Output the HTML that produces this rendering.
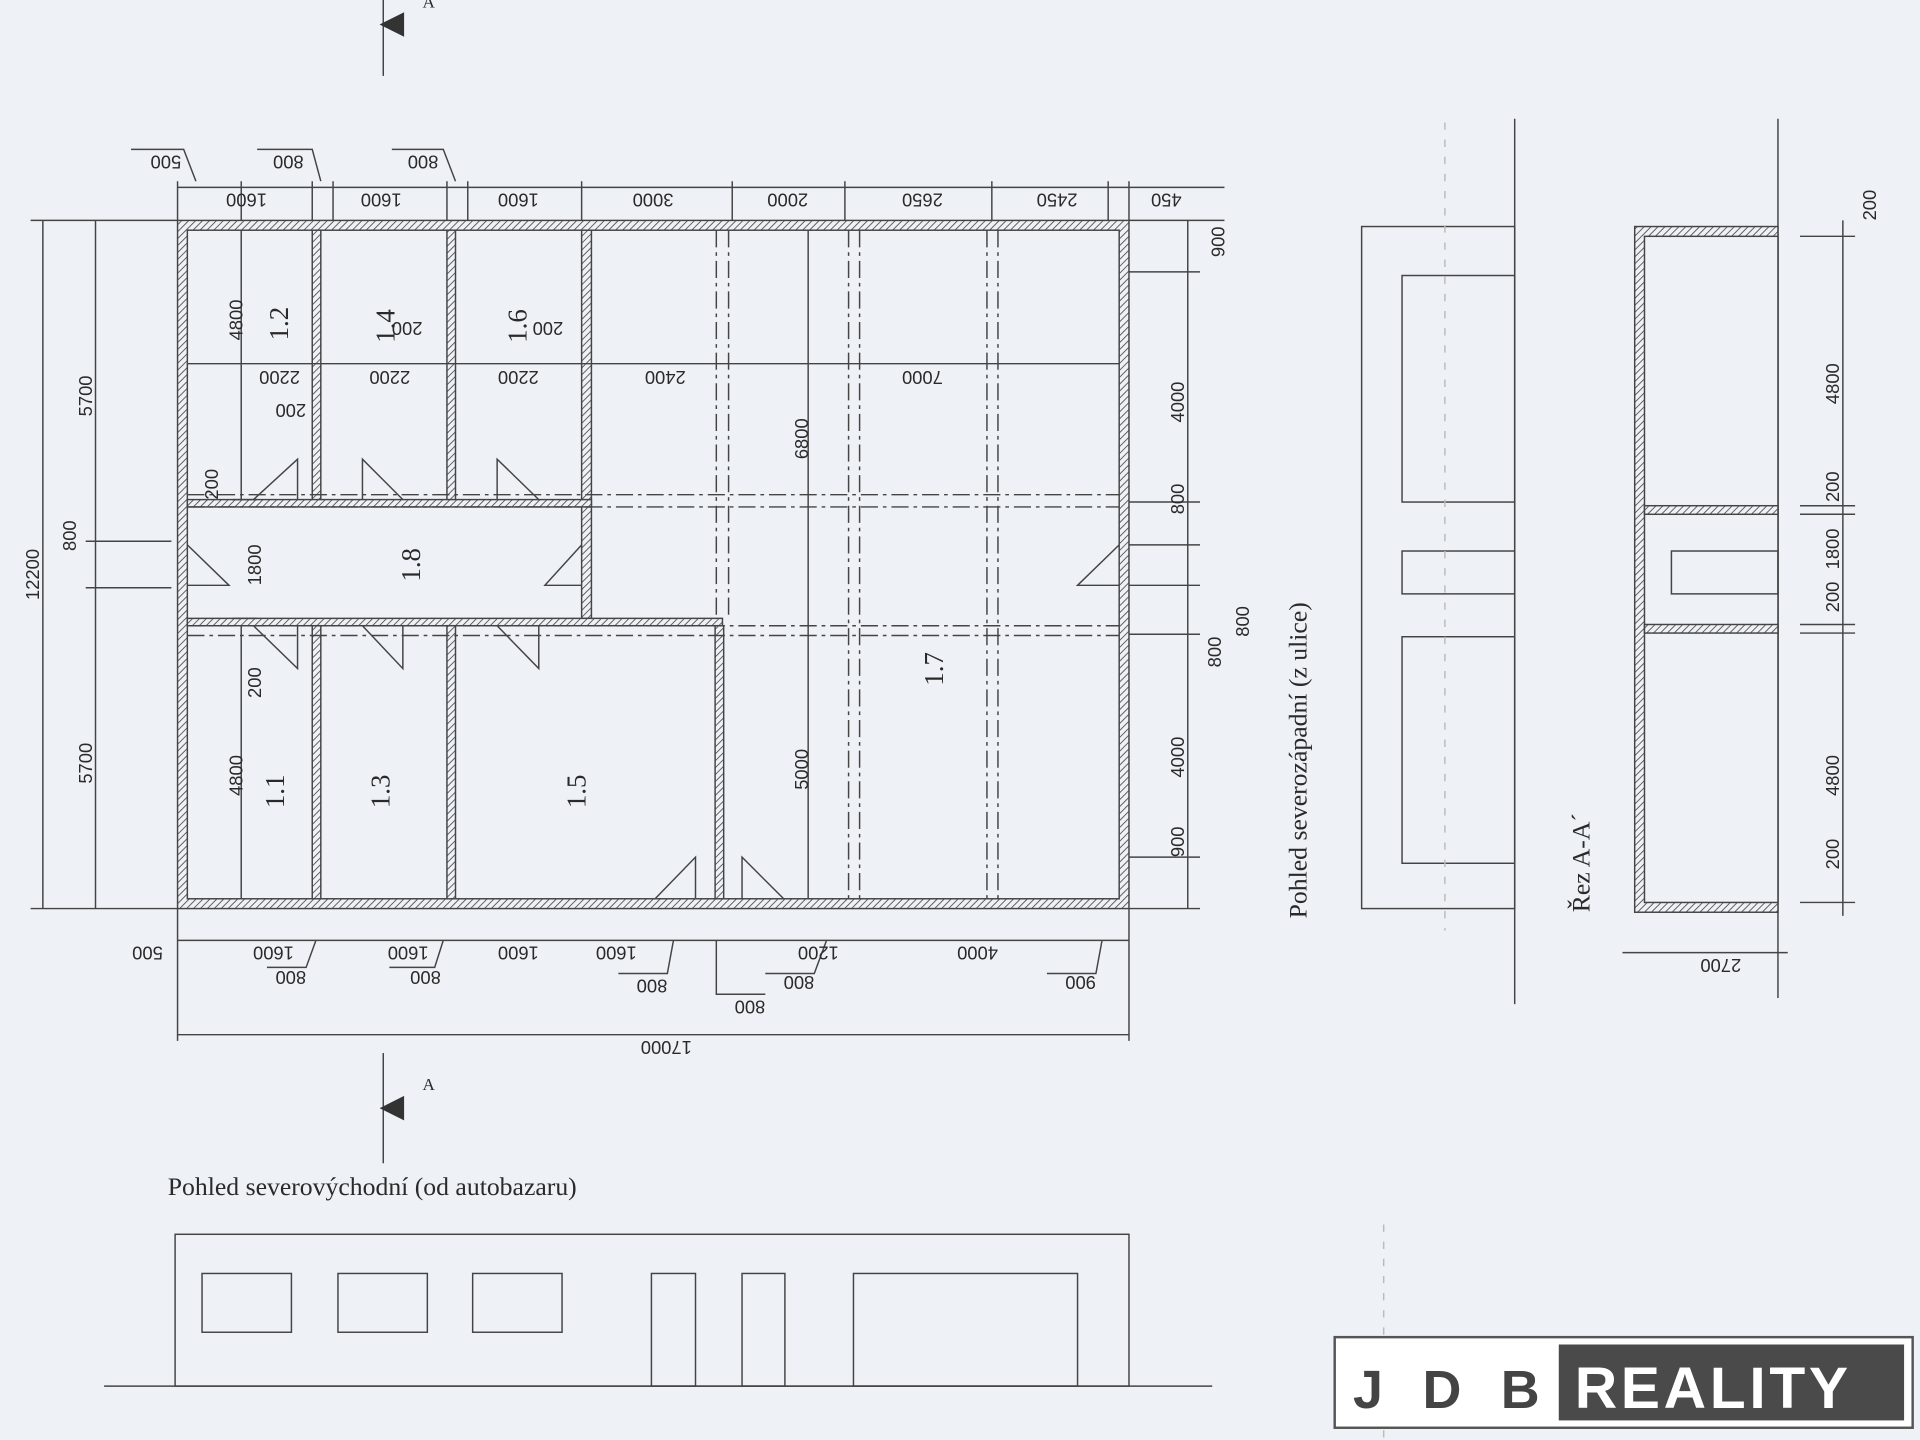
<!DOCTYPE html>
<html><head><meta charset="utf-8"><style>
html,body{margin:0;padding:0;background:#eef2f7;}
svg{display:block}
text{font-family:"Liberation Sans",sans-serif;fill:#2a2a2a;}
.s text,text.s{font-family:"Liberation Serif",serif;}
</style></head><body>
<svg width="1920" height="1440" viewBox="0 0 1568 1176" xmlns="http://www.w3.org/2000/svg">
<defs>
<pattern id="h" width="4" height="4" patternUnits="userSpaceOnUse" patternTransform="rotate(45)">
<rect width="4" height="4" fill="#eef2f7"/><line x1="0" y1="0" x2="0" y2="4" stroke="#555" stroke-width="1.5"/></pattern>
</defs>
<rect width="1568" height="1176" fill="#eef2f7"/>
<g stroke="#444" stroke-width="1.2" fill="none">
<line x1="313" y1="0" x2="313" y2="62"/>
<line x1="313" y1="860" x2="313" y2="950"/>
<rect x="145" y="180" width="777" height="562" fill="url(#h)"/>
<rect x="153" y="188" width="761" height="546" fill="#eef2f7"/>
<rect x="255" y="188" width="7" height="222" fill="url(#h)"/>
<rect x="365" y="188" width="7" height="222" fill="url(#h)"/>
<rect x="475" y="188" width="8" height="317" fill="url(#h)"/>
<rect x="153" y="408" width="330" height="6" fill="url(#h)"/>
<rect x="153" y="505" width="437" height="6" fill="url(#h)"/>
<rect x="255" y="511" width="7" height="223" fill="url(#h)"/>
<rect x="365" y="511" width="7" height="223" fill="url(#h)"/>
<rect x="584" y="511" width="7" height="223" fill="url(#h)"/>
<line x1="197" y1="188" x2="197" y2="408"/>
<line x1="197" y1="511" x2="197" y2="734"/>
<line x1="153" y1="297" x2="914" y2="297"/>
<line x1="660" y1="188" x2="660" y2="734"/>
<g stroke-dasharray="14,4,3,4">
<line x1="585" y1="188" x2="585" y2="505"/><line x1="595" y1="188" x2="595" y2="505"/>
<line x1="693" y1="188" x2="693" y2="734"/><line x1="702" y1="188" x2="702" y2="734"/>
<line x1="806" y1="188" x2="806" y2="734"/><line x1="815" y1="188" x2="815" y2="734"/>
<line x1="153" y1="414" x2="914" y2="414"/><line x1="153" y1="404" x2="914" y2="404"/>
<line x1="153" y1="511" x2="914" y2="511"/><line x1="153" y1="519" x2="914" y2="519"/>
</g>
<polyline points="207,408 243,375 243,408"/><polyline points="296,408 296,375 329,408"/>
<polyline points="406,408 406,375 440,408"/>
<polyline points="207,511 243,546 243,511"/><polyline points="296,511 329,546 329,511"/>
<polyline points="406,511 440,546 440,511"/>
<polyline points="153,445 187,478 153,478"/><polyline points="475,445 445,478 475,478"/>
<polyline points="914,445 880,478 914,478"/>
<polyline points="535,734 568,700 568,734"/><polyline points="606,734 606,700 640,734"/>
<line x1="35" y1="180" x2="35" y2="742"/><line x1="78" y1="180" x2="78" y2="742"/>
<line x1="25" y1="180" x2="145" y2="180"/><line x1="25" y1="742" x2="145" y2="742"/>
<line x1="70" y1="442" x2="140" y2="442"/><line x1="70" y1="480" x2="140" y2="480"/>
<line x1="190" y1="408" x2="210" y2="408"/><line x1="190" y1="505" x2="210" y2="505"/>
<line x1="145" y1="153" x2="1000" y2="153"/>
<line x1="145" y1="148" x2="145" y2="180"/><line x1="197" y1="148" x2="197" y2="180"/>
<line x1="255" y1="148" x2="255" y2="180"/><line x1="272" y1="148" x2="272" y2="180"/>
<line x1="365" y1="148" x2="365" y2="180"/><line x1="382" y1="148" x2="382" y2="180"/>
<line x1="475" y1="148" x2="475" y2="180"/><line x1="598" y1="148" x2="598" y2="180"/>
<line x1="690" y1="148" x2="690" y2="180"/><line x1="810" y1="148" x2="810" y2="180"/>
<line x1="905" y1="148" x2="905" y2="180"/><line x1="922" y1="148" x2="922" y2="180"/>
<polyline points="107,122 150,122 160,148"/><polyline points="210,122 255,122 262,148"/>
<polyline points="320,122 362,122 372,148"/>
<line x1="970" y1="180" x2="970" y2="742"/>
<line x1="922" y1="180" x2="1000" y2="180"/><line x1="922" y1="222" x2="980" y2="222"/>
<line x1="922" y1="410" x2="980" y2="410"/><line x1="922" y1="445" x2="980" y2="445"/>
<line x1="922" y1="478" x2="980" y2="478"/><line x1="922" y1="518" x2="980" y2="518"/>
<line x1="922" y1="700" x2="980" y2="700"/><line x1="922" y1="742" x2="980" y2="742"/>
<line x1="145" y1="768" x2="922" y2="768"/>
<line x1="145" y1="742" x2="145" y2="850"/><line x1="922" y1="742" x2="922" y2="850"/>
<line x1="145" y1="845" x2="922" y2="845"/>
<polyline points="855,795 895,795 900,768"/><polyline points="505,795 545,795 550,768"/>
<polyline points="585,768 585,812 625,812"/><polyline points="625,795 665,795 675,768"/>
<polyline points="218,790 250,790 258,768"/><polyline points="318,790 355,790 362,768"/>
<line x1="1237" y1="97" x2="1237" y2="820"/>
<rect x="1112" y="185" width="125" height="557"/>
<rect x="1145" y="225" width="92" height="185"/>
<rect x="1145" y="450" width="92" height="35"/>
<rect x="1145" y="520" width="92" height="185"/>
<line x1="1180" y1="100" x2="1180" y2="760" stroke-dasharray="6,8" stroke="#bbb"/>
<line x1="1130" y1="1000" x2="1130" y2="1176" stroke-dasharray="6,8" stroke="#bbb"/>
<line x1="1452" y1="97" x2="1452" y2="815"/>
<rect x="1335" y="185" width="117" height="560" fill="url(#h)"/>
<rect x="1343" y="193" width="109" height="544" fill="#eef2f7"/>
<rect x="1343" y="413" width="109" height="7" fill="url(#h)"/>
<rect x="1343" y="510" width="109" height="7" fill="url(#h)"/>
<rect x="1365" y="450" width="87" height="35"/>
<line x1="1505" y1="180" x2="1505" y2="748"/>
<line x1="1470" y1="193" x2="1515" y2="193"/><line x1="1470" y1="413" x2="1515" y2="413"/>
<line x1="1470" y1="420" x2="1515" y2="420"/><line x1="1470" y1="510" x2="1515" y2="510"/>
<line x1="1470" y1="517" x2="1515" y2="517"/><line x1="1470" y1="737" x2="1515" y2="737"/>
<line x1="1325" y1="778" x2="1460" y2="778"/>
<line x1="85" y1="1132" x2="990" y2="1132"/>
<rect x="143" y="1008" width="779" height="124"/>
<rect x="165" y="1040" width="73" height="48"/><rect x="276" y="1040" width="73" height="48"/>
<rect x="386" y="1040" width="73" height="48"/>
<rect x="532" y="1040" width="36" height="92"/><rect x="606" y="1040" width="35" height="92"/>
<rect x="697" y="1040" width="183" height="92"/>
</g>
<polygon points="310,20 330,10 330,30" fill="#333"/>
<text x="345" y="6" font-size="14" class="s">A</text>
<polygon points="310,905 330,895 330,915" fill="#333"/>
<text x="345" y="890" font-size="14" class="s">A</text>
<g class="s" font-size="22">
<text transform="translate(235,278) rotate(-90)">1.2</text>
<text transform="translate(322,280) rotate(-90)">1.4</text>
<text transform="translate(430,280) rotate(-90)">1.6</text>
<text transform="translate(343,475) rotate(-90)">1.8</text>
<text transform="translate(770,560) rotate(-90)">1.7</text>
<text transform="translate(232,660) rotate(-90)">1.1</text>
<text transform="translate(318,660) rotate(-90)">1.3</text>
<text transform="translate(478,660) rotate(-90)">1.5</text>
</g>
<g font-size="15">
<text transform="translate(198,278) rotate(-90)">4800</text>
<text transform="translate(75,340) rotate(-90)">5700</text>
<text transform="translate(75,640) rotate(-90)">5700</text>
<text transform="translate(32,490) rotate(-90)">12200</text>
<text transform="translate(62,450) rotate(-90)">800</text>
<text transform="translate(178,408) rotate(-90)">200</text>
<text transform="translate(213,478) rotate(-90)">1800</text>
<text transform="translate(213,570) rotate(-90)">200</text>
<text transform="translate(198,650) rotate(-90)">4800</text>
<text transform="translate(660,375) rotate(-90)">6800</text>
<text transform="translate(660,645) rotate(-90)">5000</text>
<text transform="translate(967,345) rotate(-90)">4000</text>
<text transform="translate(967,420) rotate(-90)">800</text>
<text transform="translate(997,545) rotate(-90)">800</text>
<text transform="translate(1020,520) rotate(-90)">800</text>
<text transform="translate(967,635) rotate(-90)">4000</text>
<text transform="translate(967,700) rotate(-90)">900</text>
<text transform="translate(1000,210) rotate(-90)">900</text>
<text transform="translate(1502,710) rotate(-90)">200</text>
<text transform="translate(1502,650) rotate(-90)">4800</text>
<text transform="translate(1502,500) rotate(-90)">200</text>
<text transform="translate(1502,465) rotate(-90)">1800</text>
<text transform="translate(1502,410) rotate(-90)">200</text>
<text transform="translate(1502,330) rotate(-90)">4800</text>
<text transform="translate(1532,180) rotate(-90)">200</text>
</g>
<g font-size="15">
<text transform="translate(148,127) rotate(180)">500</text>
<text transform="translate(248,127) rotate(180)">800</text>
<text transform="translate(358,127) rotate(180)">800</text>
<text transform="translate(218,158) rotate(180)">1600</text>
<text transform="translate(328,158) rotate(180)">1600</text>
<text transform="translate(440,158) rotate(180)">1600</text>
<text transform="translate(550,158) rotate(180)">3000</text>
<text transform="translate(660,158) rotate(180)">2000</text>
<text transform="translate(770,158) rotate(180)">2650</text>
<text transform="translate(880,158) rotate(180)">2450</text>
<text transform="translate(965,158) rotate(180)">450</text>
<text transform="translate(245,303) rotate(180)">2200</text>
<text transform="translate(335,303) rotate(180)">2200</text>
<text transform="translate(440,303) rotate(180)">2200</text>
<text transform="translate(560,303) rotate(180)">2400</text>
<text transform="translate(770,303) rotate(180)">7000</text>
<text transform="translate(250,330) rotate(180)">200</text>
<text transform="translate(345,263) rotate(180)">200</text>
<text transform="translate(460,263) rotate(180)">200</text>
<text transform="translate(133,773) rotate(180)">500</text>
<text transform="translate(240,773) rotate(180)">1600</text>
<text transform="translate(350,773) rotate(180)">1600</text>
<text transform="translate(440,773) rotate(180)">1600</text>
<text transform="translate(520,773) rotate(180)">1600</text>
<text transform="translate(685,773) rotate(180)">1200</text>
<text transform="translate(815,773) rotate(180)">4000</text>
<text transform="translate(250,793) rotate(180)">800</text>
<text transform="translate(360,793) rotate(180)">800</text>
<text transform="translate(545,800) rotate(180)">800</text>
<text transform="translate(665,797) rotate(180)">800</text>
<text transform="translate(625,817) rotate(180)">800</text>
<text transform="translate(895,797) rotate(180)">900</text>
<text transform="translate(565,850) rotate(180)">17000</text>
<text transform="translate(1422,783) rotate(180)">2700</text>
</g>
<g class="s" font-size="21">
<text transform="translate(1067,750) rotate(-90)">Pohled severozápadní (z ulice)</text>
<text transform="translate(1298,745) rotate(-90)">Řez A-A´</text>
<text x="137" y="976">Pohled severovýchodní (od autobazaru)</text>
</g>
<rect x="1090" y="1092" width="472" height="74" fill="#fff" stroke="#555" stroke-width="2"/>
<text x="1105" y="1150" font-size="44" font-weight="bold" letter-spacing="10" style="fill:#444">J D B</text>
<rect x="1273" y="1098" width="282" height="62" fill="#4a4a4a"/>
<text x="1286" y="1150" font-size="48" font-weight="bold" letter-spacing="3" style="fill:#fff">REALITY</text>
</svg>
</body></html>
